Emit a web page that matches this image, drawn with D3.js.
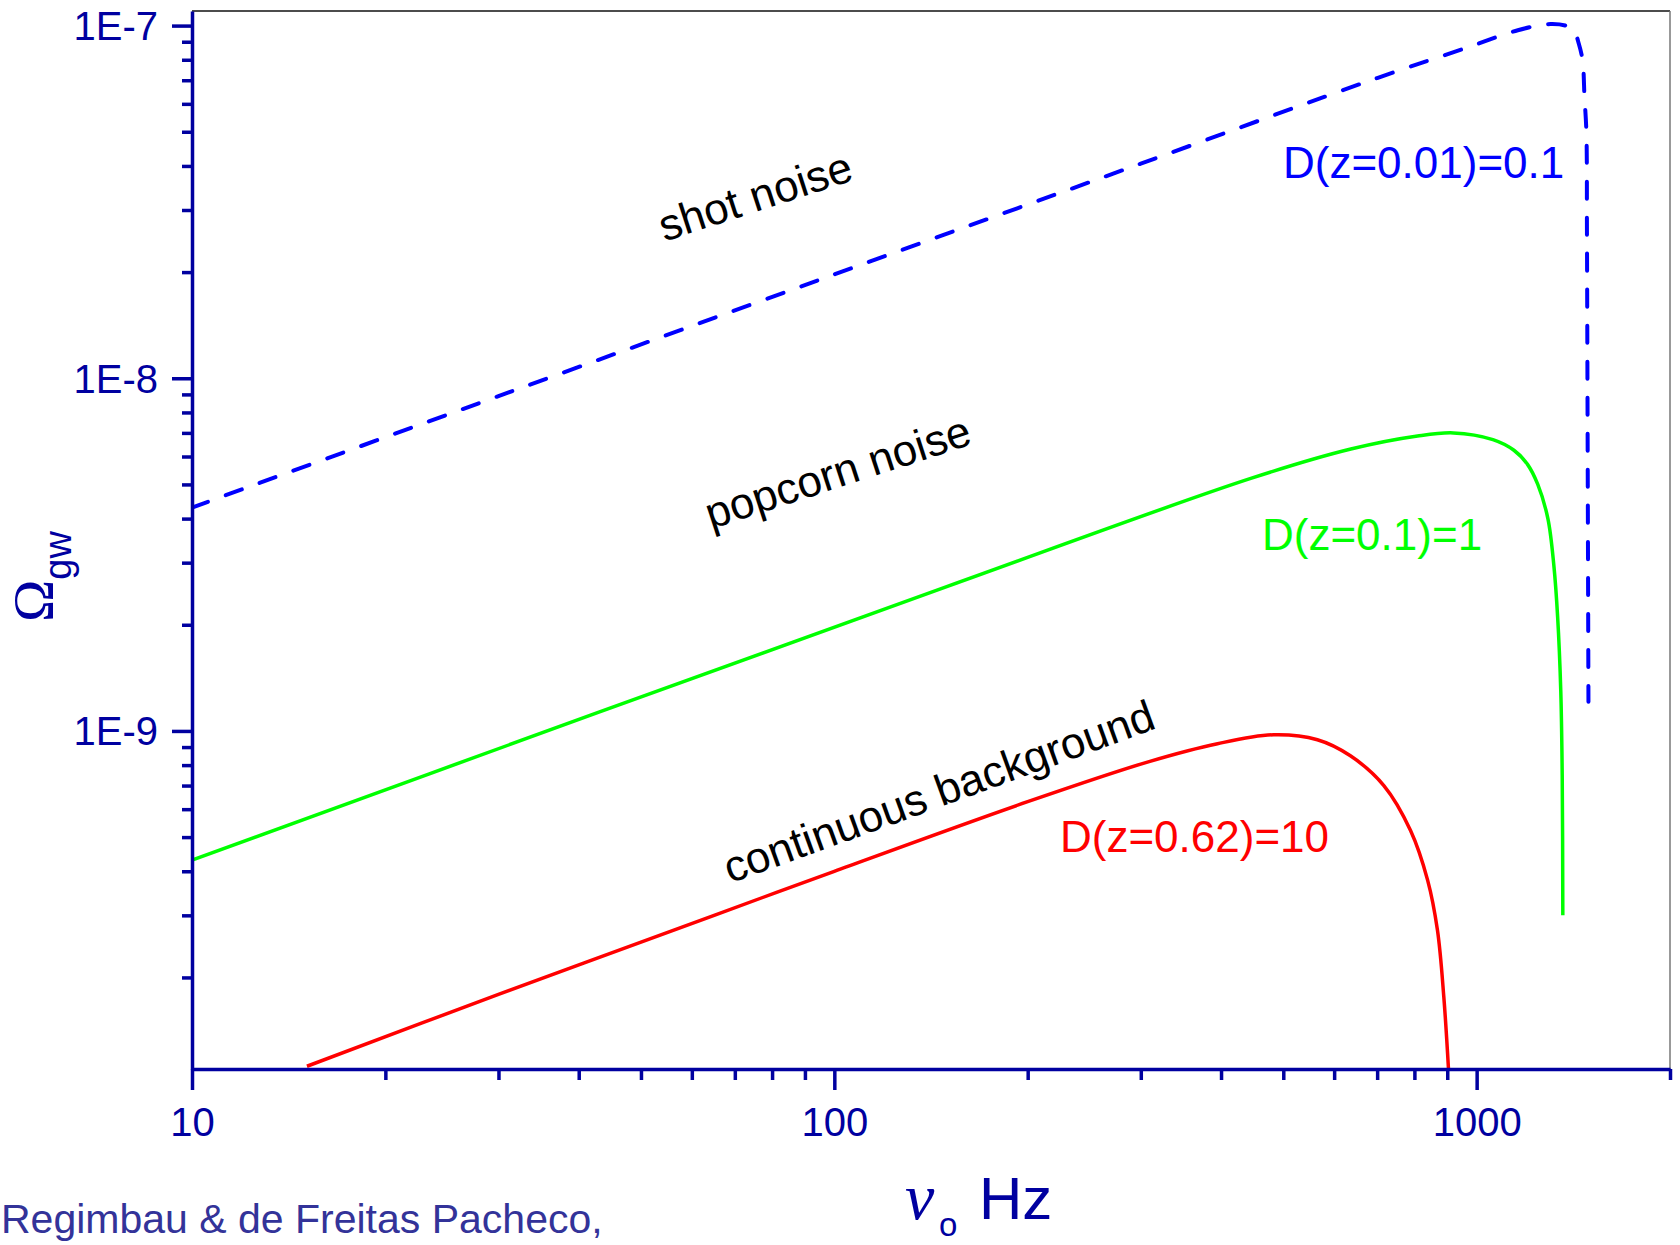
<!DOCTYPE html>
<html>
<head>
<meta charset="utf-8">
<script src="https://cdn.jsdelivr.net/npm/d3@7"></script>
<style>
body { margin: 0; background: #fff; }
svg { display: block; font-family: "Liberation Sans", Arial, sans-serif; }
</style>
</head>
<body>
<svg width="1680" height="1245"></svg>
<script>
// shot noise, D(z=0.01)=0.1 (dashed blue)
let shotFreq = [10, 30, 100, 300, 700, 968, 1159, 1303, 1387, 1422, 1442, 1462, 1472, 1482, 1485, 1488, 1493];
let shotOmega = [4.3e-9, 8.9e-9, 1.97e-8, 4.06e-8, 7.1e-8, 8.67e-8, 9.7e-8, 1.01e-7, 9.94e-8, 9.55e-8, 8.9e-8, 7.96e-8, 6.27e-8, 4.99e-8, 2.58e-8, 8.73e-9, 1.21e-9];

// popcorn noise, D(z=0.1)=1 (green)
let popFreq = [10, 43, 150, 445, 637, 809, 920, 1060, 1143, 1200, 1245, 1291, 1319, 1337, 1352, 1359, 1362];
let popOmega = [4.3e-10, 1.13e-9, 2.57e-9, 5.2e-9, 6.3e-9, 6.86e-9, 7.0e-9, 6.7e-9, 6.25e-9, 5.7e-9, 5.0e-9, 4.0e-9, 2.94e-9, 2.1e-9, 1.3e-9, 7.5e-10, 3.0e-10];

// continuous background, D(z=0.62)=10 (red)
let contFreq = [15.1, 30, 65, 100, 200, 310, 395, 483, 565, 636, 717, 789, 839, 869, 889, 904];
let contOmega = [1.12e-10, 1.79e-10, 3.0e-10, 4.0e-10, 6.3e-10, 8.2e-10, 9.2e-10, 9.75e-10, 9.44e-10, 8.5e-10, 7.0e-10, 5.22e-10, 3.77e-10, 2.72e-10, 1.76e-10, 1.1e-10];

// tick values
let xMajor = [10, 100, 1000];
let xMinor = [20, 30, 40, 50, 60, 70, 80, 90, 200, 300, 400, 500, 600, 700, 800, 900, 2000];
let yMajor = [1e-9, 1e-8, 1e-7];
let yMinor = [];
[1e-10, 1e-9, 1e-8].forEach((d) => {
    for (let k = 2; k <= 9; k++) yMinor.push(k * d);
});

let svg = d3.select("svg");
let axisColor = "#0000a0";
let plotLeft = 192, plotRight = 1670, plotTop = 11, plotBottom = 1069;

let x = d3.scaleLog().domain([10, 2000]).range([plotLeft, plotRight]);
let y = d3.scaleLog().domain([1.1e-10, 1.1e-7]).range([plotBottom, plotTop]);

// frame (top and right)
svg.append("line")
    .attr("x1", plotLeft).attr("x2", plotRight).attr("y1", plotTop).attr("y2", plotTop)
    .attr("stroke", "#111").attr("stroke-width", 1.5);
svg.append("line")
    .attr("x1", plotRight).attr("x2", plotRight).attr("y1", plotTop).attr("y2", plotBottom)
    .attr("stroke", "#777").attr("stroke-width", 1.5);

// clip the curves to the plot area
svg.append("clipPath").attr("id", "plot")
    .append("rect").attr("x", plotLeft).attr("y", plotTop - 2)
    .attr("width", plotRight - plotLeft).attr("height", plotBottom - plotTop + 2);

let line = d3.line()
    .x((d) => x(d[0]))
    .y((d) => y(d[1]))
    .curve(d3.curveCatmullRom.alpha(0.5));

let curves = svg.append("g").attr("clip-path", "url(#plot)").attr("fill", "none");

curves.append("path")
    .attr("d", line(d3.zip(contFreq, contOmega)))
    .attr("stroke", "#ff0000").attr("stroke-width", 3.5);

curves.append("path")
    .attr("d", line(d3.zip(popFreq, popOmega)))
    .attr("stroke", "#00ff00").attr("stroke-width", 3.5);

curves.append("path")
    .attr("d", line(d3.zip(shotFreq, shotOmega)))
    .attr("stroke", "#0000ff").attr("stroke-width", 4)
    .attr("stroke-linecap", "round")
    .attr("stroke-dasharray", "17,19");

// axes
function styleAxis(g) {
    g.selectAll("line").attr("stroke", axisColor).attr("stroke-width", 3.5);
    g.selectAll("path").attr("stroke", axisColor).attr("stroke-width", 3.5);
    g.selectAll("text").attr("fill", axisColor).style("font-size", "40px")
        .style("font-family", '"Liberation Sans", Arial, sans-serif');
}

svg.append("g")
    .attr("transform", `translate(0,${plotBottom})`)
    .call(d3.axisBottom(x).tickValues(xMinor).tickSize(11).tickSizeOuter(0).tickFormat(""))
    .call(styleAxis)
    .call((g) => g.select(".domain").remove());

svg.append("g")
    .attr("transform", `translate(0,${plotBottom})`)
    .call(d3.axisBottom(x).tickValues(xMajor).tickSize(21).tickSizeOuter(0).tickFormat(d3.format("d")))
    .call(styleAxis)
    .call((g) => g.selectAll("text").attr("y", 39).attr("dy", "0.71em"));

svg.append("g")
    .attr("transform", `translate(${plotLeft},0)`)
    .call(d3.axisLeft(y).tickValues(yMinor).tickSize(10).tickSizeOuter(0).tickFormat(""))
    .call(styleAxis)
    .call((g) => g.select(".domain").remove());

svg.append("g")
    .attr("transform", `translate(${plotLeft},0)`)
    .call(d3.axisLeft(y).tickValues(yMajor).tickSize(20).tickSizeOuter(0)
        .tickFormat((d) => "1E" + Math.round(Math.log10(d))))
    .call(styleAxis)
    .call((g) => g.selectAll("text").attr("x", -34).attr("dy", "0.35em"));

// axis titles
let yTitle = svg.append("text")
    .attr("transform", "translate(53,622) rotate(-90)")
    .attr("fill", axisColor);
yTitle.append("tspan")
    .style("font-family", '"Liberation Serif", "Times New Roman", serif')
    .style("font-size", "57px")
    .text("Ω");
yTitle.append("tspan")
    .attr("dy", 18)
    .style("font-size", "38px")
    .text("gw");

let xTitle = svg.append("text").attr("fill", axisColor);
xTitle.append("tspan")
    .attr("x", 905).attr("y", 1219)
    .style("font-family", '"Liberation Serif", "Times New Roman", serif')
    .style("font-style", "italic")
    .style("font-size", "66px")
    .text("ν");
xTitle.append("tspan")
    .attr("x", 939).attr("y", 1236)
    .style("font-size", "33px")
    .text("o");
xTitle.append("tspan")
    .attr("x", 979).attr("y", 1219)
    .style("font-size", "60px")
    .text("Hz");

svg.append("text")
    .attr("x", 1).attr("y", 1233)
    .attr("fill", "#333399")
    .style("font-size", "41px")
    .text("Regimbau & de Freitas Pacheco,");

// curve annotations
let notes = [
    { text: "shot noise", x: 755, y: 196, angle: -18, dy: "0.35em" },
    { text: "popcorn noise", x: 839, y: 476, angle: -18, dy: "0.25em" },
    { text: "continuous background", x: 940, y: 795, angle: -20, dy: "0.26em" }
];
svg.selectAll(".note")
    .data(notes)
    .enter()
    .append("text")
    .attr("class", "note")
    .attr("transform", (d) => `translate(${d.x},${d.y}) rotate(${d.angle})`)
    .attr("text-anchor", "middle")
    .attr("dy", (d) => d.dy)
    .attr("fill", "#000")
    .style("font-size", "44px")
    .text((d) => d.text);

let labels = [
    { text: "D(z=0.01)=0.1", x: 1283, y: 178, color: "#0000ff" },
    { text: "D(z=0.1)=1", x: 1262, y: 550, color: "#00ff00" },
    { text: "D(z=0.62)=10", x: 1060, y: 852, color: "#ff0000" }
];
svg.selectAll(".dlabel")
    .data(labels)
    .enter()
    .append("text")
    .attr("class", "dlabel")
    .attr("x", (d) => d.x)
    .attr("y", (d) => d.y)
    .attr("fill", (d) => d.color)
    .style("font-size", "44px")
    .text((d) => d.text);
</script>
</body>
</html>
